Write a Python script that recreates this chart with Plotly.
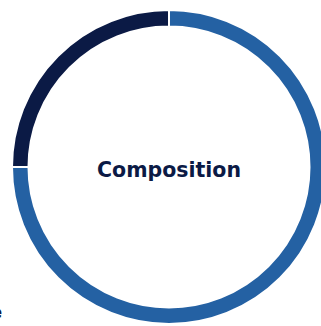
import plotly.graph_objects as go

# donut slices
labels = ["Share A", "Share B"]
values = [25, 75]
colors = ["#0b1a45", "#2461a3"]

NAVY = "#0b1a45"
FONT = "DejaVu Sans"

fig = go.Figure(go.Pie(
    labels=labels,
    values=values,
    hole=0.895,
    sort=False,
    direction="clockwise",
    rotation=270,
    marker=dict(colors=colors, line=dict(color="white", width=2)),
    textinfo="none",
    hoverinfo="label+percent",
    showlegend=False,
))

fig.add_annotation(
    x=0.5, y=0.49, xref="paper", yref="paper",
    text="<b>Composition</b>", showarrow=False,
    font=dict(family=FONT, size=20.5, color=NAVY),
)
# cut-off label on the left edge
fig.add_annotation(
    x=-0.05, y=0.0, xref="paper", yref="paper",
    text="<b>e</b>", showarrow=False, xanchor="center",
    font=dict(family=FONT, size=18, color=NAVY),
)

fig.update_layout(
    width=340, height=326,
    margin=dict(l=12, r=14, t=10, b=2),
    paper_bgcolor="white", plot_bgcolor="white",
)

fig.write_html("out.html", config={"displayModeBar": False},
               post_script="document.body.style.overflow='hidden';document.body.style.margin='0';")
